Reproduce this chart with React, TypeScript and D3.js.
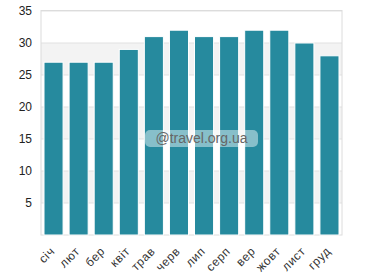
import { useEffect } from "react";
import * as d3 from "d3";

const months = ["січ", "лют", "бер", "квіт", "трав", "черв", "лип", "серп", "вер", "жовт", "лист", "груд"];
const values = [27, 27, 27, 29, 31, 32, 31, 31, 32, 32, 30, 28];
const yTicks = [5, 10, 15, 20, 25, 30, 35];
const bands = [[5, 10], [15, 20], [25, 30]];

const W = 382;
const H = 280;
const m = { top: 11, right: 40, bottom: 45, left: 41 };

export default function App() {
  useEffect(() => {
    document.body.style.margin = "0";
  }, []);

  const x = d3.scaleBand<string>().domain(months).range([m.left, W - m.right]).paddingInner(0.24).paddingOuter(0.12);
  const y = d3.scaleLinear().domain([0, 35]).range([H - m.bottom, m.top]);
  const font = "'Liberation Sans', Arial, sans-serif";

  return (
    <svg width={W} height={H} style={{ display: "block", fontFamily: font }}>
      {bands.map(([a, b]) => (
        <rect key={a} x={m.left} width={W - m.right - m.left} y={y(b)} height={y(a) - y(b)} fill="#f3f3f3" />
      ))}
      {yTicks.map((t) => (
        <g key={t}>
          <line x1={m.left} x2={W - m.right} y1={y(t)} y2={y(t)} stroke="#e1e1e1" strokeWidth={1} />
          <text x={m.left - 9} y={y(t)} dy="0.35em" textAnchor="end" fontSize={12} fill="#222">{t}</text>
        </g>
      ))}
      <rect x={m.left} y={m.top - 0.5} width={W - m.right - m.left} height={y(0) - m.top + 0.5} fill="none" stroke="#dcdcdc" strokeWidth={1} />
      {values.map((v, i) => (
        <rect key={i} x={x(months[i])} width={x.bandwidth()} y={y(v)} height={y(0) - y(v)} fill="#268a9e" stroke="#fff" strokeWidth={1} />
      ))}
      {months.map((mo) => {
        const cx = (x(mo) as number) + x.bandwidth() / 2 - 1;
        const cy = y(0) + 14;
        return (
          <text key={mo} transform={`translate(${cx},${cy}) rotate(-45)`} textAnchor="end" dy="0.35em" fontSize={12} letterSpacing={0.6} fill="#333">{mo}</text>
        );
      })}
      <rect x={145} y={130} width={113} height={17} rx={5} fill="#fff" fillOpacity={0.45} />
      <text x={201.5} y={138.5} dy="0.35em" textAnchor="middle" fontSize={14} fill="#666">@travel.org.ua</text>
    </svg>
  );
}
